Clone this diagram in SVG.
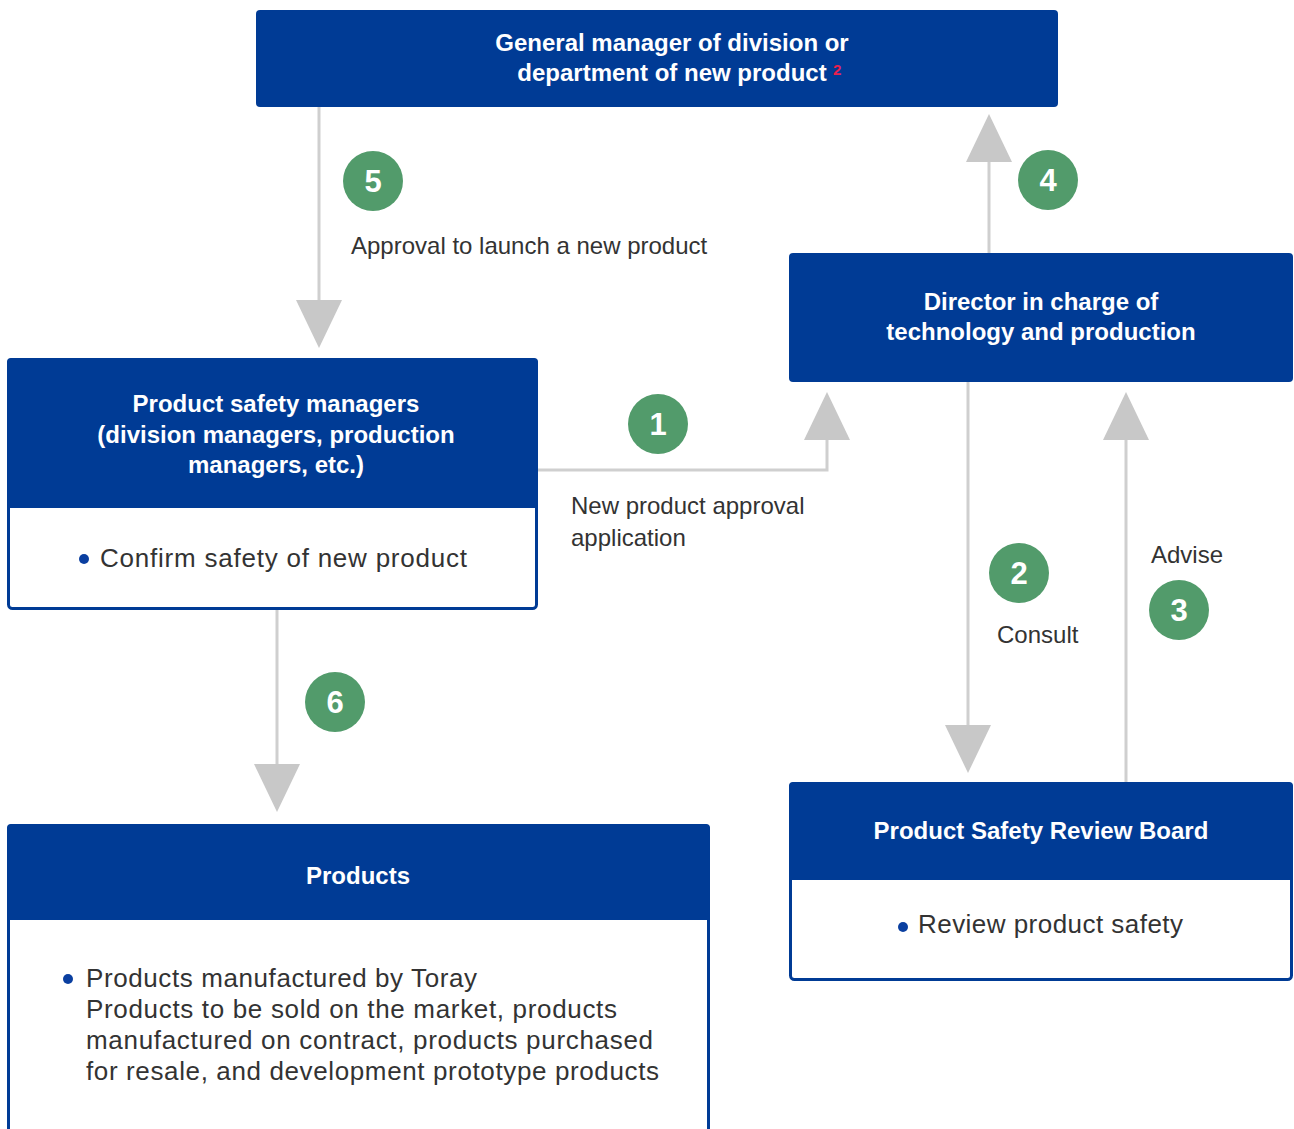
<svg xmlns="http://www.w3.org/2000/svg" width="1294" height="1129" viewBox="0 0 1294 1129">
<style>
.hdr{fill:#003b95}
.box{fill:#ffffff;stroke:#003b95;stroke-width:3}
.ht{font-family:"Liberation Sans",Arial,sans-serif;font-weight:bold;font-size:24px;fill:#ffffff;text-anchor:middle}
.bt{font-family:"Liberation Sans",Arial,sans-serif;font-size:26px;fill:#333333}
.lb{font-family:"Liberation Sans",Arial,sans-serif;font-size:24px;fill:#333333}
.bul{fill:#0a3fa0}
.con{fill:none;stroke:#cfcfcf;stroke-width:3}
.num circle{fill:#529b6b}
.num text{font-family:"Liberation Sans",Arial,sans-serif;font-weight:bold;font-size:31px;fill:#ffffff;text-anchor:middle}
</style>
<defs>
<marker id="ah" markerUnits="userSpaceOnUse" markerWidth="48" markerHeight="48" viewBox="0 0 48 48" refX="40" refY="23" orient="auto">
<path d="M0,0 L48,23 L0,46 Z" fill="#c8c8c8"/>
</marker>
</defs>
<rect width="1294" height="1129" fill="#ffffff"/>

<g id="connectors">
<path class="con" d="M319,107 V340" marker-end="url(#ah)"/>
<path class="con" d="M538,470 H827 V400" marker-end="url(#ah)"/>
<path class="con" d="M989,253 V122" marker-end="url(#ah)"/>
<path class="con" d="M968,382 V765" marker-end="url(#ah)"/>
<path class="con" d="M1126,782 V400" marker-end="url(#ah)"/>
<path class="con" d="M277,610 V804" marker-end="url(#ah)"/>
</g>

<g id="node-gm">
<rect class="hdr" x="256" y="10" width="802" height="97" rx="4"/>
<text class="ht" x="672" y="51">General manager of division or</text>
<text class="ht" x="672" y="81">department of new product</text>
<text x="833" y="75" font-family="Liberation Sans,Arial,sans-serif" font-weight="bold" font-size="15" fill="#e8204f">2</text>
</g>

<g id="node-psm">
<rect class="box" x="8.5" y="359.5" width="528" height="249" rx="4"/>
<path class="hdr" d="M7,362 a4,4 0 0 1 4,-4 H534 a4,4 0 0 1 4,4 V508 H7 Z"/>
<text class="ht" x="276" y="412">Product safety managers</text>
<text class="ht" x="276" y="443">(division managers, production</text>
<text class="ht" x="276" y="473">managers, etc.)</text>
<circle class="bul" cx="84" cy="559" r="5"/>
<text class="bt" x="100" y="567" textLength="367" lengthAdjust="spacing">Confirm safety of new product</text>
</g>

<g id="node-director">
<rect class="hdr" x="789" y="253" width="504" height="129" rx="4"/>
<text class="ht" x="1041" y="310">Director in charge of</text>
<text class="ht" x="1041" y="340">technology and production</text>
</g>

<g id="node-psrb">
<rect class="box" x="790.5" y="783.5" width="501" height="196" rx="4"/>
<path class="hdr" d="M789,786 a4,4 0 0 1 4,-4 H1289 a4,4 0 0 1 4,4 V880 H789 Z"/>
<text class="ht" x="1041" y="839">Product Safety Review Board</text>
<circle class="bul" cx="903" cy="927" r="5"/>
<text class="bt" x="918" y="933" textLength="265" lengthAdjust="spacing">Review product safety</text>
</g>

<g id="node-products">
<rect class="box" x="8.5" y="825.5" width="700" height="320" rx="4"/>
<path class="hdr" d="M7,828 a4,4 0 0 1 4,-4 H706 a4,4 0 0 1 4,4 V920 H7 Z"/>
<text class="ht" x="358" y="884">Products</text>
<circle class="bul" cx="68" cy="979" r="5"/>
<text class="bt" x="86" y="987" textLength="391" lengthAdjust="spacing">Products manufactured by Toray</text>
<text class="bt" x="86" y="1018" textLength="531" lengthAdjust="spacing">Products to be sold on the market, products</text>
<text class="bt" x="86" y="1049" textLength="567" lengthAdjust="spacing">manufactured on contract, products purchased</text>
<text class="bt" x="86" y="1080" textLength="573" lengthAdjust="spacing">for resale, and development prototype products</text>
</g>

<g id="labels">
<text class="lb" x="351" y="254">Approval to launch a new product</text>
<text class="lb" x="571" y="514">New product approval</text>
<text class="lb" x="571" y="546">application</text>
<text class="lb" x="997" y="643">Consult</text>
<text class="lb" x="1151" y="563">Advise</text>
</g>

<g id="steps" class="num">
<g id="step-5"><circle cx="373" cy="181" r="30"/><text x="373" y="192">5</text></g>
<g id="step-1"><circle cx="658" cy="424" r="30"/><text x="658" y="435">1</text></g>
<g id="step-4"><circle cx="1048" cy="180" r="30"/><text x="1048" y="191">4</text></g>
<g id="step-2"><circle cx="1019" cy="573" r="30"/><text x="1019" y="584">2</text></g>
<g id="step-3"><circle cx="1179" cy="610" r="30"/><text x="1179" y="621">3</text></g>
<g id="step-6"><circle cx="335" cy="702" r="30"/><text x="335" y="713">6</text></g>
</g>
</svg>
